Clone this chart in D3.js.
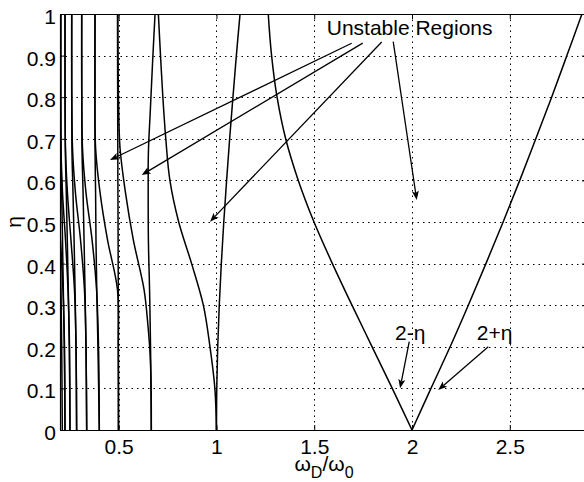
<!DOCTYPE html>
<html><head><meta charset="utf-8">
<script src="https://cdn.jsdelivr.net/npm/d3@7"></script>
<style>
body{margin:0;background:#fff}
text{font-family:"Liberation Sans",Arial,Helvetica,sans-serif;fill:#000}
</style></head><body>
<svg id="c" width="584" height="482"></svg>
<script>
// ---- data ----
const xTicks=[0.5,1,1.5,2,2.5];
const xTickLabels=["0.5","1","1.5","2","2.5"];
const yTicks=[0,0.1,0.2,0.3,0.4,0.5,0.6,0.7,0.8,0.9,1];
const yTickLabels=["0","0.1","0.2","0.3","0.4","0.5","0.6","0.7","0.8","0.9","1"];

// boundary curves of the unstable tongues: [omegaD/omega0, eta]
const t1Left=[[2,0],[1.899,0.1],[1.796,0.2],[1.693,0.3],[1.593,0.4],[1.499,0.5],[1.4185,0.6],[1.354,0.7],[1.31,0.8],[1.282,0.9],[1.265,1]];
const t1Right=[[2,0],[2.097,0.1],[2.195,0.2],[2.288,0.3],[2.378,0.4],[2.466,0.5],[2.551,0.6],[2.633,0.7],[2.714,0.8],[2.792,0.9],[2.869,1]];
const t2Right=[[1,0],[1.0017,0.1],[1.0066,0.2],[1.0144,0.3],[1.0249,0.4],[1.0375,0.5],[1.052,0.6],[1.0675,0.7],[1.0844,0.8],[1.1018,0.9],[1.1207,1]];
const t2Left=[[1,0],[0.992,0.1],[0.967,0.2],[0.933,0.3],[0.873,0.4],[0.807,0.5],[0.762,0.6],[0.741,0.7],[0.726,0.8],[0.714,0.9],[0.703,1]];
const t3Right=[[0.667,0],[0.663,0.2],[0.658,0.337],[0.652,0.457],[0.651,0.58],[0.652,0.667],[0.662,0.77],[0.673,0.88],[0.686,1]];
const t3Left=[[0.667,0],[0.666,0.1],[0.661,0.18],[0.650,0.25],[0.630,0.337],[0.575,0.457],[0.535,0.57],[0.507,0.678],[0.499,0.8],[0.496,1]];
const t4Right=[[0.499,0],[0.498,0.337],[0.496,0.6],[0.494,1]];
const t4Left=[[0.499,0],[0.498,0.2],[0.494,0.337],[0.443,0.457],[0.405,0.57],[0.382,0.678],[0.379,0.85],[0.379,1]];
const t5Right=[[0.401,0],[0.394,0.2],[0.388,0.337],[0.384,0.457],[0.382,0.57],[0.379,0.678],[0.379,1]];
const t5Left=[[0.401,0],[0.397,0.2],[0.387,0.337],[0.364,0.457],[0.333,0.57],[0.315,0.678],[0.311,0.85],[0.311,1]];
const t6Right=[[0.3365,0],[0.333,0.2],[0.328,0.337],[0.323,0.457],[0.318,0.57],[0.3125,0.678],[0.311,1]];
const t6Left=[[0.3365,0],[0.333,0.2],[0.325,0.337],[0.305,0.457],[0.279,0.57],[0.264,0.678],[0.260,0.85],[0.260,1]];
const t7Right=[[0.285,0],[0.282,0.2],[0.277,0.337],[0.272,0.457],[0.2665,0.57],[0.261,0.678],[0.2598,1]];
const t7Left=[[0.285,0],[0.282,0.2],[0.274,0.337],[0.256,0.457],[0.238,0.57],[0.228,0.678],[0.2256,0.85],[0.2256,1]];
const t8Right=[[0.251,0],[0.2476,0.2],[0.2424,0.337],[0.2373,0.457],[0.2322,0.57],[0.2271,0.678],[0.2256,1]];
const t8Left=[[0.251,0],[0.2486,0.2],[0.2409,0.337],[0.2281,0.457],[0.2128,0.57],[0.2051,0.678],[0.2036,1]];
const t9Right=[[0.2256,0],[0.222,0.2],[0.2169,0.337],[0.2128,0.457],[0.2087,0.57],[0.2051,0.678],[0.2045,1]];
const t9Left=[[0.2256,0],[0.223,0.2],[0.2153,0.337],[0.2026,0.457],[0.19,0.57]];
const t10Right=[[0.2118,0],[0.2087,0.2],[0.2051,0.337],[0.2015,0.457],[0.195,0.6]];
const curves=[t1Left,t1Right,t2Left,t2Right,t3Left,t3Right,t4Left,t4Right,t5Left,t5Right,t6Left,t6Right,t7Left,t7Right,t8Left,t8Right,t9Left,t9Right,t10Right];

// annotations (data coordinates)
const labelTexts=[{t:"Unstable Regions",x:1.564,y:0.9495},{t:"2-\u03b7",x:1.913,y:0.2163},{t:"2+\u03b7",x:2.331,y:0.2163}];
const arrows=[
 [[1.6916,0.9296],[0.4557,0.649]],
 [[1.748,0.930],[0.6178,0.613]],
 [[1.845,0.9327],[0.967,0.5007]],
 [[1.904,0.9334],[2.024,0.553]],
 [[1.986,0.2123],[1.939,0.1002]],
 [[2.390,0.2002],[2.134,0.0962]]
];

// ---- drawing ----
const svg=d3.select("#c");
svg.append("rect").attr("width",584).attr("height",482).attr("fill","#fff");
const L=60,R=588,T=14,B=430;
const x=d3.scaleLinear().domain([0.2,2.9]).range([L,R]);
const y=d3.scaleLinear().domain([0,1]).range([B,T]);

svg.append("defs").append("clipPath").attr("id","clip").append("rect")
  .attr("x",L).attr("y",T).attr("width",R-L).attr("height",B-T);

// grid
const grid=svg.append("g").attr("stroke","#000").attr("stroke-width",1).attr("stroke-dasharray","1.5,4");
grid.selectAll(".gx").data(xTicks).join("line")
  .attr("x1",d=>Math.round(x(d))+0.5).attr("x2",d=>Math.round(x(d))+0.5).attr("y1",T).attr("y2",B);
grid.selectAll(".gy").data(yTicks.filter(d=>d>0&&d<1)).join("line")
  .attr("y1",d=>Math.round(y(d))+0.5).attr("y2",d=>Math.round(y(d))+0.5).attr("x1",L).attr("x2",R);

// curves
const line=d3.line().x(d=>x(d[0])).y(d=>y(d[1])).curve(d3.curveCatmullRom.alpha(0.5));
svg.append("g").attr("clip-path","url(#clip)").selectAll("path").data(curves).join("path")
  .attr("d",line).attr("fill","none").attr("stroke","#000").attr("stroke-width",1.5);

// axes with inward ticks
const fmtX=(d,i)=>xTickLabels[i], fmtY=(d,i)=>yTickLabels[i];
const ax=svg.append("g").attr("transform",`translate(0,${B})`)
  .call(d3.axisBottom(x).tickValues(xTicks).tickFormat(fmtX).tickSizeInner(-5).tickSizeOuter(0).tickPadding(9));
const ay=svg.append("g").attr("transform",`translate(${L},0)`)
  .call(d3.axisLeft(y).tickValues(yTicks).tickFormat(fmtY).tickSizeInner(-5).tickSizeOuter(0).tickPadding(4));
svg.append("g").attr("transform",`translate(0,${T})`)
  .call(d3.axisTop(x).tickValues(xTicks).tickFormat("").tickSizeInner(-5).tickSizeOuter(0));
svg.append("g").attr("transform",`translate(${R},0)`)
  .call(d3.axisRight(y).tickValues(yTicks).tickFormat("").tickSizeInner(-6).tickSizeOuter(0));
svg.selectAll(".domain").attr("stroke","#000").attr("stroke-width",1.2);
svg.selectAll(".tick line").attr("stroke","#000");
svg.selectAll(".tick text").attr("font-size",21).attr("font-family","Liberation Sans, Arial, sans-serif").attr("fill","#000");
ax.selectAll(".tick text").attr("dy","0.71em");
ay.selectAll(".tick text").attr("dy","0.45em");

// axis labels
const xl=svg.append("text").attr("x",324).attr("y",471).attr("text-anchor","middle").attr("font-size",21);
xl.append("tspan").text("\u03c9");
xl.append("tspan").attr("font-size",16).attr("dy",7).text("D");
xl.append("tspan").attr("dy",-7).text("/\u03c9");
xl.append("tspan").attr("font-size",16).attr("dy",7).text("0");
svg.append("text").attr("transform","translate(21,222) rotate(-90)").attr("text-anchor","middle")
  .attr("font-size",21).text("\u03b7");

// annotations
svg.selectAll(".lab").data(labelTexts).join("text")
  .attr("x",d=>x(d.x)).attr("y",d=>y(d.y)).attr("font-size",21).text(d=>d.t);
const ag=svg.append("g");
arrows.forEach(a=>{
  const x1=x(a[0][0]),y1=y(a[0][1]),x2=x(a[1][0]),y2=y(a[1][1]);
  const ang=Math.atan2(y2-y1,x2-x1), hl=9, hw=3.5, nb=7;
  ag.append("line").attr("x1",x1).attr("y1",y1).attr("x2",x2-Math.cos(ang)*nb).attr("y2",y2-Math.sin(ang)*nb)
    .attr("stroke","#000").attr("stroke-width",1.3);
  const c=Math.cos(ang),s=Math.sin(ang);
  const p=[[x2,y2],[x2-hl*c+hw*s,y2-hl*s-hw*c],[x2-nb*c,y2-nb*s],[x2-hl*c-hw*s,y2-hl*s+hw*c]];
  ag.append("path").attr("d","M"+p.map(q=>q.join(",")).join("L")+"Z").attr("fill","#000");
});
</script></body></html>
